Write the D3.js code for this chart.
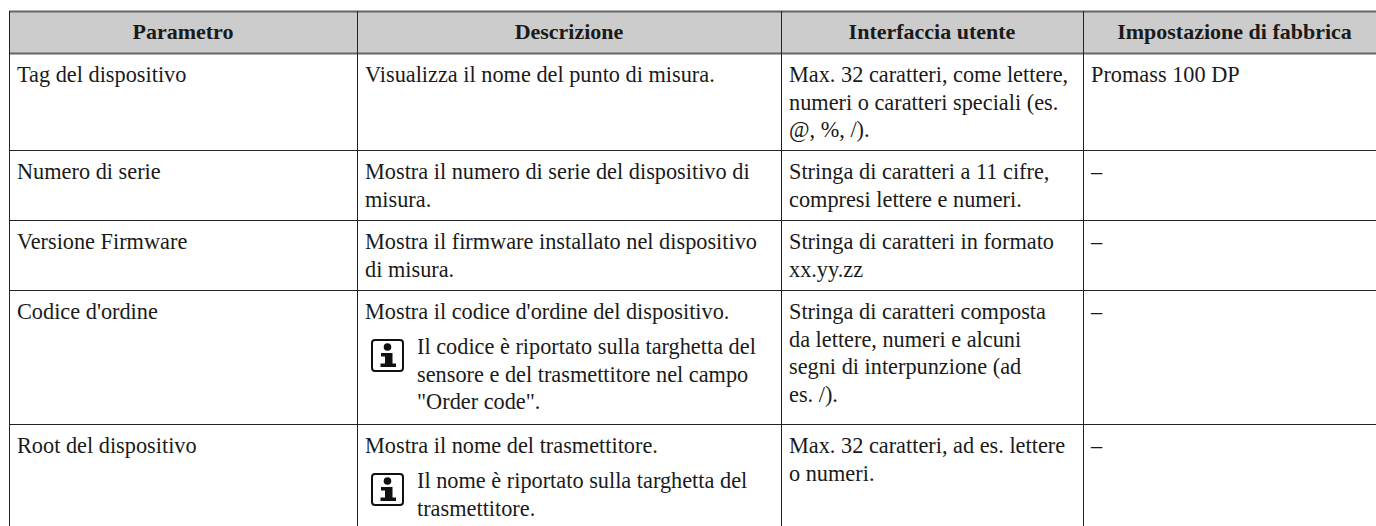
<!DOCTYPE html>
<html>
<head>
<meta charset="utf-8">
<script src="https://cdn.jsdelivr.net/npm/d3@7"></script>
<style>
  html, body { margin: 0; padding: 0; background: #fff; }
  svg { display: block; }
  text { font-family: "Liberation Serif", serif; fill: #1a1a1a; }
</style>
</head>
<body>
<div id="chart"></div>
<script>
// Table content
const columns = ["Parametro", "Descrizione", "Interfaccia utente", "Impostazione di fabbrica"];
const parametro = ["Tag del dispositivo", "Numero di serie", "Versione Firmware", "Codice d'ordine", "Root del dispositivo"];
const descrizione = [
    ["Visualizza il nome del punto di misura."],
    ["Mostra il numero di serie del dispositivo di", "misura."],
    ["Mostra il firmware installato nel dispositivo", "di misura."],
    ["Mostra il codice d'ordine del dispositivo."],
    ["Mostra il nome del trasmettitore."]
];
const note = [
    [],
    [],
    [],
    ["Il codice è riportato sulla targhetta del", "sensore e del trasmettitore nel campo", "\"Order code\"."],
    ["Il nome è riportato sulla targhetta del", "trasmettitore."]
];
const interfaccia = [
    ["Max. 32 caratteri, come lettere,", "numeri o caratteri speciali (es.", "@, %, /)."],
    ["Stringa di caratteri a 11 cifre,", "compresi lettere e numeri."],
    ["Stringa di caratteri in formato", "xx.yy.zz"],
    ["Stringa di caratteri composta", "da lettere, numeri e alcuni", "segni di interpunzione (ad", "es. /)."],
    ["Max. 32 caratteri, ad es. lettere", "o numeri."]
];
const fabbrica = ["Promass 100 DP", "–", "–", "–", "–"];

// Layout, the last column runs past the right edge of the page
const width = 1376, height = 526;
const colEdges = [9, 357, 781, 1083, 1386];
const rowEdges = [11, 53, 150, 220, 290, 424, 526];
const lineHeight = 27.5, fontSize = 22.3;

const svg = d3.select("#chart").append("svg")
    .attr("width", width)
    .attr("height", height);

// Header band
svg.append("rect")
    .attr("x", colEdges[0])
    .attr("y", rowEdges[0])
    .attr("width", width - colEdges[0])
    .attr("height", rowEdges[1] - rowEdges[0])
    .attr("fill", "#cccccc");

// Grid lines, the two around the header are heavier and grey
svg.selectAll(".hline")
    .data(rowEdges.slice(0, -1))
    .enter().append("line")
    .attr("x1", colEdges[0])
    .attr("x2", width)
    .attr("y1", d => d + 0.5)
    .attr("y2", d => d + 0.5)
    .attr("stroke", (d, i) => i < 2 ? "#666" : "#222")
    .attr("stroke-width", (d, i) => i < 2 ? 2 : 1);

svg.selectAll(".vline")
    .data(colEdges.slice(0, -1))
    .enter().append("line")
    .attr("x1", d => d + 0.5)
    .attr("x2", d => d + 0.5)
    .attr("y1", rowEdges[0])
    .attr("y2", height)
    .attr("stroke", "#222");

// Header labels
svg.selectAll(".head")
    .data(columns)
    .enter().append("text")
    .attr("x", (d, i) => (colEdges[i] + colEdges[i + 1]) / 2)
    .attr("y", 39)
    .attr("text-anchor", "middle")
    .attr("font-weight", 700)
    .attr("font-size", 22)
    .text(d => d);

// Cell text, one block of lines per cell
function cell(lines, col, row, isNote) {
    svg.append("g").selectAll("text")
        .data(lines)
        .enter().append("text")
        .attr("x", colEdges[col] + (isNote ? 60 : 8))
        .attr("y", (d, i) => rowEdges[row + 1] + (isNote ? 64 : 29) + i * lineHeight)
        .attr("font-size", fontSize)
        .text(d => d);
}

parametro.forEach((d, r) => {
    cell([d], 0, r);
    cell(descrizione[r], 1, r);
    cell(note[r], 1, r, true);
    cell(interfaccia[r], 2, r);
    cell([fabbrica[r]], 3, r);

    // info icon
    if (note[r].length) {
        const g = svg.append("g")
            .attr("transform", "translate(" + (colEdges[1] + 15) + "," + (rowEdges[r + 1] + 50) + ")");
        g.append("rect")
            .attr("width", 31)
            .attr("height", 31)
            .attr("rx", 3)
            .attr("fill", "#fff")
            .attr("stroke", "#111")
            .attr("stroke-width", 2);
        g.append("circle")
            .attr("cx", 15.5)
            .attr("cy", 7)
            .attr("r", 3.8)
            .attr("fill", "#111");
        g.append("path")
            .attr("d", "M9 13h11.5v10.5h3.5V27H8.5v-3.5h4.5v-7H9z")
            .attr("fill", "#111");
    }
});
</script>
</body>
</html>
